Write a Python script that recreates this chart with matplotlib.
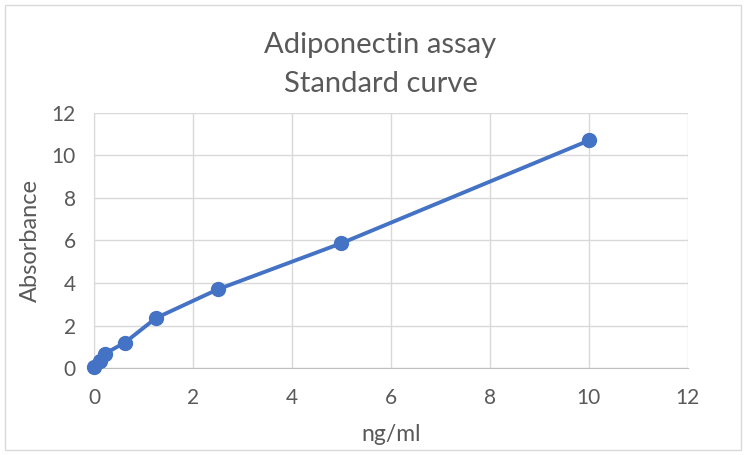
import matplotlib.pyplot as plt
from matplotlib.patches import Rectangle

# concentracion de estandares y absorbancia medida
conc = [0, 0.12, 0.22, 0.625, 1.25, 2.5, 5, 10]
absorb = [0.03, 0.35, 0.68, 1.2, 2.35, 3.7, 5.87, 10.7]
xticks = [0, 2, 4, 6, 8, 10, 12]
yticks = [0, 2, 4, 6, 8, 10, 12]

plt.rcParams['font.family'] = ['Lato', 'DejaVu Sans']

fig = plt.figure(figsize=(7.46, 4.55), dpi=100)
ax = fig.add_axes([0.126, 0.191, 0.796, 0.561])

ax.plot(conc, absorb, color='#4472C4', lw=2.8, marker='o', ms=10, zorder=3, clip_on=False)

ax.set_xlim(0, 12)
ax.set_ylim(0, 12)
ax.set_xticks(xticks)
ax.set_yticks(yticks)
ax.grid(True, color='#d9d9d9', lw=1)
ax.set_axisbelow(True)
for s in ['top', 'right']:
    ax.spines[s].set_visible(False)
ax.spines['left'].set_color('#d9d9d9')
ax.spines['bottom'].set_color('#bfbfbf')
ax.tick_params(axis='y', length=0, labelsize=15, labelcolor='#595959', pad=13)
ax.tick_params(axis='x', length=0, labelsize=15, labelcolor='#595959', pad=14)

ax.set_xlabel('ng/ml', fontsize=16.5, color='#595959', labelpad=12)
ax.set_ylabel('Absorbance', fontsize=17, color='#595959', labelpad=8)
fig.text(0.51, 0.90, 'Adiponectin assay', ha='center', va='center', fontsize=21, color='#595959')
fig.text(0.51, 0.815, 'Standard curve', ha='center', va='center', fontsize=21, color='#595959')

# marco exterior del grafico
fig.patches.append(Rectangle((0.007, 0.011), 0.986, 0.978, transform=fig.transFigure,
                             fill=False, edgecolor='#d9d9d9', lw=1))

fig.savefig('out.png', dpi=100)
